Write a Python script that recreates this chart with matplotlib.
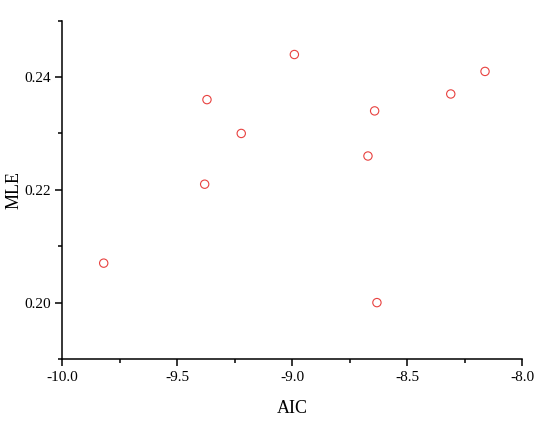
import matplotlib
matplotlib.use("Agg")
import matplotlib.pyplot as plt
from matplotlib.ticker import MultipleLocator, FormatStrFormatter

aic = [-8.991, -8.162, -9.371, -8.311, -8.642, -9.222, -8.671, -9.381, -9.820, -8.632]
mle = [0.244, 0.241, 0.236, 0.237, 0.234, 0.230, 0.226, 0.221, 0.207, 0.200]

plt.rcParams['font.family'] = ['Liberation Serif', 'DejaVu Serif']

fig = plt.figure(figsize=(5.5, 4.22), dpi=100)
ax = fig.add_axes([0.1133, 0.1493, 0.8363, 0.8017])
ax.scatter(aic, mle, s=36, facecolors='none', edgecolors='#e8413f', linewidths=0.8, zorder=3)

ax.set_xlim(-10.0, -8.0)
ax.set_ylim(0.19, 0.25)
ax.xaxis.set_major_locator(MultipleLocator(0.5))
ax.xaxis.set_minor_locator(MultipleLocator(0.25))
ax.yaxis.set_major_locator(MultipleLocator(0.02))
ax.yaxis.set_minor_locator(MultipleLocator(0.01))
ax.xaxis.set_major_formatter(FormatStrFormatter('%.1f'))
ax.yaxis.set_major_formatter(FormatStrFormatter('%.2f'))

for s in ['top', 'right']:
    ax.spines[s].set_visible(False)
for s in ['left', 'bottom']:
    ax.spines[s].set_linewidth(1.1)

ax.tick_params(which='major', direction='out', length=5, width=1.1, labelsize=11)
ax.tick_params(which='minor', direction='out', length=3, width=1.1)

ax.set_xlabel('AIC', fontsize=13)
ax.set_ylabel('MLE', fontsize=13)
ax.xaxis.set_label_coords(0.5, -0.122)
ax.yaxis.set_label_coords(-0.086, 0.5)

fig.savefig('out.png', dpi=100)
